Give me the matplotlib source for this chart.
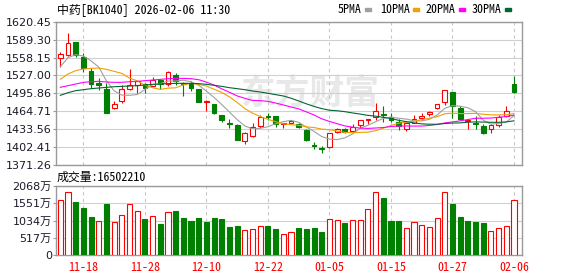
import matplotlib
matplotlib.use("Agg")
import matplotlib.pyplot as plt
import matplotlib.patches as mpatches
import numpy as np
import pandas as pd

plt.rcParams['font.family'] = ['DejaVu Sans', 'Noto Sans CJK SC']

# daily candles
opens = [1556.7, 1561.9, 1584.5, 1559.6, 1534.7, 1513.2, 1503.4, 1469.8, 1481.9, 1502.8,
         1510.4, 1511.5, 1508.6, 1519.0, 1512.1, 1527.7, 1514.4, 1513.2, 1503.4, 1480.2,
         1477.3, 1458.2, 1443.7, 1440.8, 1413.6, 1422.3, 1439.1, 1457.0, 1455.9, 1442.0,
         1444.9, 1443.1, 1432.1, 1406.6, 1401.4, 1402.5, 1429.2, 1434.4, 1429.8, 1440.8,
         1449.5, 1454.7, 1460.0, 1455.3, 1446.6, 1433.3, 1444.9, 1453.6, 1460.5, 1470.9,
         1481.4, 1498.2, 1470.4, 1448.3, 1444.9, 1439.1, 1433.3, 1440.8, 1457.0, 1512.1]
highs = [1567.7, 1600.2, 1585.5, 1565.4, 1539.3, 1521.9, 1513.2, 1482.5, 1509.8, 1537.6,
         1517.5, 1513.0, 1523.7, 1520.0, 1535.3, 1531.8, 1516.1, 1517.3, 1504.0, 1484.2,
         1478.0, 1459.0, 1451.2, 1442.0, 1428.6, 1444.9, 1458.2, 1461.1, 1457.0, 1444.0,
         1449.0, 1444.9, 1433.0, 1411.2, 1404.3, 1427.5, 1436.2, 1436.2, 1442.0, 1450.0,
         1451.0, 1479.6, 1473.9, 1461.1, 1450.6, 1446.0, 1457.6, 1461.1, 1465.7, 1477.0,
         1502.0, 1499.0, 1473.3, 1451.8, 1456.5, 1442.0, 1442.5, 1457.6, 1473.9, 1526.0]
lows = [1542.2, 1561.0, 1558.4, 1532.4, 1504.5, 1501.6, 1462.0, 1469.0, 1478.5, 1501.6,
        1495.9, 1495.9, 1508.0, 1503.4, 1508.6, 1510.4, 1491.8, 1500.5, 1481.0, 1465.7,
        1459.3, 1446.6, 1435.0, 1415.0, 1407.2, 1419.4, 1435.0, 1449.5, 1437.9, 1435.0,
        1444.5, 1435.0, 1413.6, 1399.6, 1392.7, 1401.4, 1427.5, 1427.5, 1429.0, 1435.0,
        1442.5, 1449.5, 1445.5, 1445.5, 1432.1, 1430.9, 1443.7, 1449.5, 1456.5, 1468.6,
        1475.6, 1452.4, 1449.5, 1433.3, 1434.4, 1425.2, 1427.5, 1436.7, 1455.3, 1497.0]
closes = [1564.2, 1582.8, 1562.5, 1540.5, 1511.5, 1510.9, 1462.2, 1476.7, 1502.8, 1509.8,
          1517.3, 1505.7, 1519.0, 1512.1, 1532.4, 1517.3, 1512.6, 1505.7, 1481.4, 1481.9,
          1461.7, 1450.1, 1442.0, 1415.3, 1426.3, 1436.7, 1455.3, 1455.3, 1442.0, 1443.7,
          1448.3, 1437.9, 1414.7, 1403.7, 1399.1, 1426.3, 1433.8, 1429.2, 1437.9, 1449.5,
          1450.6, 1465.1, 1458.2, 1449.5, 1439.1, 1443.7, 1450.6, 1456.5, 1463.4, 1476.7,
          1501.6, 1474.4, 1451.2, 1450.1, 1442.5, 1427.5, 1441.4, 1455.3, 1465.1, 1498.8]

# moving average lines as shown
ma5 = [1542.2, 1557.9, 1563.1, 1560.8, 1552.3, 1541.6, 1517.5, 1500.4, 1492.8, 1492.5,
       1493.8, 1502.5, 1510.9, 1512.8, 1517.3, 1517.3, 1518.7, 1516.0, 1509.9, 1499.8,
       1488.7, 1476.2, 1463.4, 1450.2, 1439.1, 1434.1, 1435.1, 1437.8, 1443.1, 1446.6,
       1448.9, 1445.4, 1437.3, 1429.7, 1420.7, 1416.3, 1415.5, 1418.4, 1425.3, 1435.3,
       1440.2, 1446.5, 1452.3, 1454.6, 1452.5, 1451.1, 1448.2, 1447.9, 1450.7, 1458.2,
       1469.8, 1474.5, 1473.5, 1470.8, 1464.0, 1449.1, 1442.5, 1443.4, 1446.0, 1457.3]
ma10 = [1520.2, 1529.5, 1535.3, 1538.2, 1539.3, 1539.9, 1537.6, 1534.1, 1530.6, 1522.4,
        1517.7, 1510.0, 1505.6, 1502.8, 1504.9, 1505.5, 1510.6, 1513.5, 1511.3, 1508.5,
        1503.0, 1497.4, 1489.7, 1480.0, 1469.4, 1461.4, 1455.6, 1450.6, 1446.7, 1442.8,
        1441.5, 1440.3, 1437.6, 1436.4, 1433.7, 1432.6, 1430.5, 1427.9, 1427.5, 1428.0,
        1428.3, 1431.0, 1435.3, 1439.9, 1443.9, 1445.7, 1447.3, 1450.1, 1452.6, 1455.3,
        1460.4, 1461.4, 1460.7, 1460.7, 1461.1, 1459.5, 1458.5, 1458.4, 1458.6, 1460.8]
ma20 = [1506.3, 1509.2, 1512.1, 1515.0, 1516.1, 1516.7, 1515.6, 1515.0, 1515.0, 1516.1,
        1516.7, 1517.9, 1519.0, 1520.2, 1521.3, 1521.9, 1521.9, 1521.3, 1519.6, 1515.4,
        1510.3, 1503.7, 1497.7, 1491.4, 1487.2, 1483.5, 1483.1, 1482.0, 1479.0, 1475.7,
        1472.2, 1468.9, 1463.6, 1458.2, 1451.6, 1447.0, 1443.1, 1439.2, 1437.1, 1435.4,
        1434.9, 1435.6, 1436.4, 1438.2, 1438.8, 1439.1, 1438.9, 1439.0, 1440.0, 1441.7,
        1444.4, 1446.2, 1448.0, 1450.3, 1452.5, 1452.6, 1452.9, 1454.2, 1455.6, 1458.1]
ma30 = [1492.4, 1497.0, 1500.5, 1502.2, 1504.0, 1505.1, 1506.3, 1507.4, 1508.0, 1508.6,
        1509.2, 1510.4, 1511.5, 1512.1, 1512.7, 1513.2, 1513.2, 1513.2, 1512.7, 1511.5,
        1509.8, 1508.0, 1505.7, 1504.0, 1502.2, 1499.9, 1498.2, 1495.9, 1493.6, 1491.3,
        1487.4, 1482.6, 1477.6, 1473.1, 1469.3, 1466.5, 1465.6, 1464.0, 1461.8, 1459.8,
        1457.6, 1456.2, 1454.2, 1452.1, 1449.0, 1446.6, 1444.5, 1442.8, 1442.2, 1442.1,
        1443.4, 1444.2, 1444.5, 1445.7, 1446.2, 1445.9, 1445.5, 1445.5, 1446.2, 1448.1]

# volume in 万 shares, 1 = red bar, 0 = green bar
volumes = [1644, 1891, 1595, 1418, 1152, 1024, 1536, 975, 1211, 1536,
           1320, 1093, 1182, 916, 1290, 1329, 1123, 1034, 1123, 1004,
           1123, 1093, 827, 857, 758, 788, 876, 857, 768, 620,
           680, 798, 768, 798, 680, 1083, 1054, 945, 1054, 1054,
           1379, 1891, 1713, 1034, 1034, 817, 975, 906, 847, 1113,
           1891, 1536, 1152, 1034, 1004, 945, 729, 817, 876, 1650.221]
vol_up = [1, 1, 0, 0, 0, 1, 0, 1, 1, 1, 1, 0, 1, 0, 1, 0, 0, 0, 0, 0,
          0, 0, 0, 0, 1, 1, 1, 0, 0, 1, 1, 0, 0, 0, 0, 1, 1, 0, 1, 1,
          1, 1, 0, 0, 0, 1, 1, 1, 1, 1, 1, 0, 0, 0, 0, 0, 1, 1, 1, 1]

price_ticks = [1371.26, 1402.41, 1433.56, 1464.71, 1495.86, 1527.00, 1558.15, 1589.30, 1620.45]
vol_ticks = [0, 517, 1034, 1551, 2068]

ma_labels = ["5PMA", "10PMA", "20PMA", "30PMA"]
ma_colors = ["#a0a0a0", "#f0a000", "#ff00ff", "#006633"]

title = "中药[BK1040] 2026-02-06 11:30"

days = pd.bdate_range("2025-11-13", "2026-02-06")
days = days[~days.isin(pd.to_datetime(["2026-01-01", "2026-01-02"]))]

RED = "#ff0000"
GREEN = "#008000"
GRID = "#d0d0d0"
SPINE = "#999999"
TXT = "#1a1a2a"
mono = ['Noto Sans Mono CJK SC', 'Noto Sans CJK SC', 'DejaVu Sans']

W, H = 578, 276
fig = plt.figure(figsize=(W / 100, H / 100), dpi=100)
ax = fig.add_axes([56 / W, 1 - 165 / H, 466 / W, 143.3 / H])
axv = fig.add_axes([56 / W, 1 - 255 / H, 466 / W, 69 / H])

x = np.arange(len(closes))
o = np.array(opens)
c = np.array(closes)
up = c >= o
cols = [RED if u else GREEN for u in up]
faces = ["white" if u else GREEN for u in up]

# watermark
ax.text(0.545, 0.5, "东方财富", transform=ax.transAxes, fontsize=25,
        fontweight="bold", color="#e8e8e8", ha="center", va="center",
        family=['Noto Sans CJK SC'], zorder=0)

# candles
ax.vlines(x, lows, highs, colors=cols, lw=0.8, zorder=2)
ax.bar(x, np.abs(c - o), bottom=np.minimum(o, c), width=0.62,
       color=faces, edgecolor=cols, linewidth=0.8, zorder=3)

for ma, col in zip([ma5, ma10, ma20, ma30], ma_colors):
    ax.plot(x, ma, color=col, lw=0.8, zorder=4)

# volume bars
vcols = [RED if u else GREEN for u in vol_up]
vfaces = ["white" if u else GREEN for u in vol_up]
axv.bar(x, volumes, width=0.66, color=vfaces, edgecolor=vcols, linewidth=0.8, zorder=3)

tick_pos = list(range(3, len(days), 8))
tick_lab = [days[i].strftime("%m-%d") for i in tick_pos]

for a in (ax, axv):
    a.set_xlim(-0.56, 60.04)
    a.set_xticks(tick_pos)
    a.grid(True, axis="y", color=GRID, lw=0.8, zorder=1)
    a.grid(True, axis="x", color="#c8c8c8", lw=0.8, ls=(0, (3, 3)), zorder=1)
    a.set_axisbelow(True)
    for s in a.spines.values():
        s.set_color(SPINE)
        s.set_linewidth(1.0)
    a.tick_params(axis="y", length=2, width=0.8, color=SPINE, pad=1,
                  labelsize=8, labelcolor=TXT)

ax.set_ylim(price_ticks[0], price_ticks[-1])
ax.set_yticks(price_ticks)
ax.set_yticklabels([f"{v:.2f}" for v in price_ticks])
ax.tick_params(axis="x", length=0, labelbottom=False)

axv.set_ylim(0, vol_ticks[-1])
axv.set_yticks(vol_ticks)
axv.set_yticklabels([f"{v}万" if v else "0" for v in vol_ticks])
axv.set_xticklabels(tick_lab)
axv.tick_params(axis="x", length=0, pad=4, labelsize=8.6, labelcolor=RED)
for t in axv.get_xticklabels():
    t.set_family(mono)

# header texts
fig.text(57 / W, 1 - 9.5 / H, title, fontsize=8.6, family=mono, color="black",
         ha="left", va="center")
fig.text(57 / W, 1 - 177 / H, f"成交量:{int(round(volumes[-1] * 1e4))}", fontsize=8.6,
         family=mono, color="black", ha="left", va="center")

# legend row
lx = [338, 380, 426, 472]
for lab, col, x0 in zip(ma_labels, ma_colors, lx):
    t = fig.text(x0 / W, 1 - 9.5 / H, lab, fontsize=8.6, family=mono, color="black",
                 ha="left", va="center")
    sx = x0 + len(lab) * 6 + 3
    fig.patches.append(mpatches.Rectangle((sx / W, 1 - 11 / H), 5.5 / W, 3.5 / H,
                                          transform=fig.transFigure, color=col))

fig.savefig("out.png", dpi=100)
